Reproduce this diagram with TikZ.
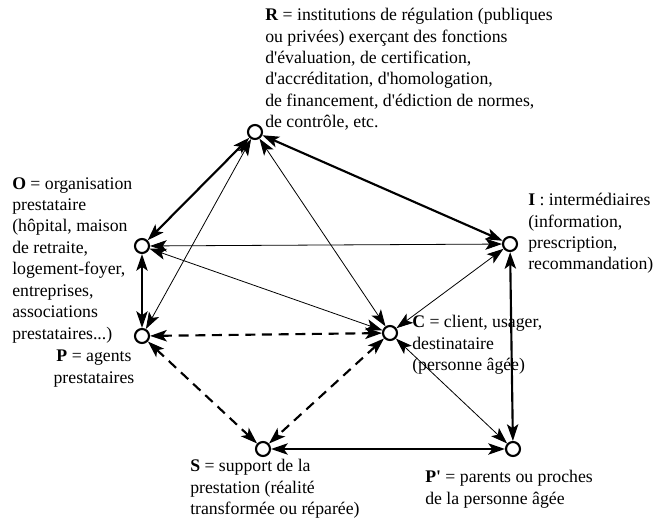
\documentclass[tikz,border=0pt]{standalone}
\usepackage{fontspec}
\setmainfont{Liberation Serif}
\usetikzlibrary{arrows.meta}
\newcommand\ap{\XeTeXglyph\XeTeXcharglyph"27\relax}
\begin{document}
\begin{tikzpicture}[x=0.75pt,y=-0.75pt,
  pt/.style={circle,draw,line width=1.6pt,fill=white,minimum size=10.5pt,inner sep=0pt},
  lbl/.style={inner sep=0pt,align=left,font=\fontsize{13.3}{16.1}\selectfont},
  tip/.style={arrows={Stealth[length=12.5pt,width=8.5pt,inset=3pt]-Stealth[length=12.5pt,width=8.5pt,inset=3pt]}},
  thick2/.style={tip,line width=1.6pt},
  thin2/.style={tip,line width=0.6pt},
  dash2/.style={tip,line width=1.6pt,dash pattern=on 7.5pt off 5pt}]
\useasboundingbox (0,0) rectangle (655,523);
% labels
\node[lbl,anchor=north west] (tR) at (265,8) {\textbf{R} = institutions de régulation (publiques\\ou privées) exerçant des fonctions\\d\ap évaluation, de certification,\\d\ap accréditation, d\ap homologation,\\de financement, d\ap édiction de normes,\\de contrôle, etc.};
\node[lbl,anchor=north west] (tO) at (12,177) {\textbf{O} = organisation\\prestataire\\(hôpital, maison\\de retraite,\\logement-foyer,\\entreprises,\\associations\\prestataires...)};
\node[lbl,anchor=north,align=center] (tP) at (94,350) {\textbf{P} = agents\\prestataires};
\node[lbl,anchor=north west] (tI) at (528,193) {\textbf{I} : intermédiaires\\(information,\\prescription,\\recommandation)};
\node[lbl,anchor=north west] (tC) at (412,315) {\textbf{C} = client, usager,\\destinataire\\(personne âgée)};
\node[lbl,anchor=north west] (tS) at (190,459) {\textbf{S} = support de la\\prestation (réalité\\transformée ou réparée)};
\node[lbl,anchor=north west] (tPp) at (425,470) {\textbf{P\ap} = parents ou proches\\de la personne âgée};
% points
\node[pt] (R) at (255,132) {};
\node[pt] (O) at (142,246) {};
\node[pt] (P) at (142,336) {};
\node[pt] (C) at (390,333) {};
\node[pt] (I) at (510,244) {};
\node[pt] (S) at (263,449) {};
\node[pt] (Pp) at (513,449) {};
% connectors
\draw[thick2] (R) -- (O);
\draw[thick2] (R) -- (I);
\draw[thick2] (O) -- (P);
\draw[thick2] (I) -- (Pp);
\draw[thick2] (S) -- (Pp);
\draw[thin2] (R) -- (P);
\draw[thin2] (R) -- (C);
\draw[thin2] (O) -- (I);
\draw[thin2] (O) -- (C);
\draw[thin2] (C) -- (I);
\draw[thin2] (C) -- (Pp);
\draw[dash2] (P) -- (C);
\draw[dash2] (P) -- (S);
\draw[dash2] (C) -- (S);
\end{tikzpicture}
\end{document}
